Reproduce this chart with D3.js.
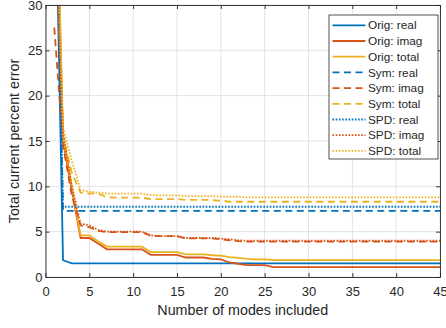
<!DOCTYPE html>
<html>
<head>
<meta charset="utf-8">
<script src="https://cdn.jsdelivr.net/npm/d3@7"></script>
<style>
  body { margin: 0; background: #fff; }
  text { font-family: "Liberation Sans", Arial, sans-serif; fill: #262626; }
</style>
</head>
<body>
<svg id="chart"></svg>
<script>
// data, one value per number of modes (1..45)
const modes = [1, 2, 3, 4, 5, 6, 7, 8, 9, 10, 11, 12, 13, 14, 15, 16, 17, 18, 19, 20, 21, 22, 23,
  24, 25, 26, 27, 28, 29, 30, 31, 32, 33, 34, 35, 36, 37, 38, 39, 40, 41, 42, 43, 44, 45];

const origReal = [50, 1.85, 1.5, 1.5, 1.5, 1.5, 1.5, 1.5, 1.5, 1.5,
  1.5, 1.5, 1.5, 1.5, 1.5, 1.5, 1.5, 1.5, 1.5, 1.5,
  1.5, 1.5, 1.5, 1.5, 1.5, 1.5, 1.5, 1.5, 1.5, 1.5,
  1.5, 1.5, 1.5, 1.5, 1.5, 1.5, 1.5, 1.5, 1.5, 1.5,
  1.5, 1.5, 1.5, 1.5, 1.5];
const origImag = [52, 15, 9.6, 4.3, 4.3, 3.7, 3.05, 3.05, 3.05, 3.05,
  3.05, 2.45, 2.45, 2.45, 2.45, 2.15, 2.15, 2.15, 2.0, 1.95,
  1.6, 1.45, 1.32, 1.32, 1.32, 1.1, 1.1, 1.1, 1.1, 1.1,
  1.1, 1.1, 1.1, 1.1, 1.1, 1.1, 1.1, 1.1, 1.1, 1.1,
  1.1, 1.1, 1.1, 1.1, 1.1];
const origTotal = [55, 15.5, 10, 4.6, 4.6, 3.95, 3.35, 3.35, 3.35, 3.35,
  3.35, 2.75, 2.75, 2.75, 2.75, 2.5, 2.5, 2.5, 2.4, 2.35,
  2.2, 2.1, 2.0, 1.95, 1.95, 1.87, 1.87, 1.87, 1.87, 1.87,
  1.87, 1.87, 1.87, 1.87, 1.87, 1.87, 1.87, 1.87, 1.87, 1.87,
  1.87, 1.87, 1.87, 1.87, 1.87];
const symReal = [50, 7.3, 7.3, 7.3, 7.3, 7.3, 7.3, 7.3, 7.3, 7.3,
  7.3, 7.3, 7.3, 7.3, 7.3, 7.3, 7.3, 7.3, 7.3, 7.3,
  7.3, 7.3, 7.3, 7.3, 7.3, 7.3, 7.3, 7.3, 7.3, 7.3,
  7.3, 7.3, 7.3, 7.3, 7.3, 7.3, 7.3, 7.3, 7.3, 7.3,
  7.3, 7.3, 7.3, 7.3, 7.3];
const symImag = [27.5, 14.5, 9, 5.7, 5.5, 5.1, 4.95, 4.95, 4.95, 4.95,
  4.95, 4.55, 4.5, 4.5, 4.5, 4.25, 4.25, 4.25, 4.25, 4.15,
  4.05, 3.95, 3.9, 3.9, 3.9, 3.9, 3.9, 3.9, 3.9, 3.9,
  3.9, 3.9, 3.9, 3.9, 3.9, 3.9, 3.9, 3.9, 3.9, 3.9,
  3.9, 3.9, 3.9, 3.9, 3.9];
const symTotal = [45, 15.5, 11.5, 9.3, 9.2, 9.2, 8.8, 8.75, 8.75, 8.75,
  8.75, 8.6, 8.6, 8.6, 8.6, 8.5, 8.5, 8.5, 8.5, 8.4,
  8.3, 8.3, 8.3, 8.3, 8.3, 8.3, 8.3, 8.3, 8.3, 8.3,
  8.3, 8.3, 8.3, 8.3, 8.3, 8.3, 8.3, 8.3, 8.3, 8.3,
  8.3, 8.3, 8.3, 8.3, 8.3];
const spdReal = [52, 7.75, 7.75, 7.75, 7.75, 7.75, 7.75, 7.75, 7.75, 7.75,
  7.75, 7.75, 7.75, 7.75, 7.75, 7.75, 7.75, 7.75, 7.75, 7.75,
  7.75, 7.75, 7.75, 7.75, 7.75, 7.75, 7.75, 7.75, 7.75, 7.75,
  7.75, 7.75, 7.75, 7.75, 7.75, 7.75, 7.75, 7.75, 7.75, 7.75,
  7.75, 7.75, 7.75, 7.75, 7.75];
const spdImag = [40, 16, 10, 5.9, 5.7, 5.2, 5.0, 5.0, 5.0, 5.0,
  5.0, 4.6, 4.5, 4.5, 4.5, 4.3, 4.3, 4.3, 4.3, 4.25,
  4.15, 4.05, 4.0, 4.0, 4.0, 4.0, 4.0, 4.0, 4.0, 4.0,
  4.0, 4.0, 4.0, 4.0, 4.0, 4.0, 4.0, 4.0, 4.0, 4.0,
  4.0, 4.0, 4.0, 4.0, 4.0];
const spdTotal = [50, 16.5, 12.8, 9.6, 9.4, 9.3, 9.2, 9.2, 9.2, 9.2,
  9.2, 9.05, 9.0, 9.0, 9.0, 8.93, 8.93, 8.93, 8.93, 8.85,
  8.85, 8.85, 8.78, 8.78, 8.78, 8.78, 8.78, 8.78, 8.78, 8.78,
  8.78, 8.78, 8.78, 8.78, 8.78, 8.78, 8.78, 8.78, 8.78, 8.78,
  8.78, 8.78, 8.78, 8.78, 8.78];

const seriesNames = ["Orig: real", "Orig: imag", "Orig: total", "Sym: real", "Sym: imag", "Sym: total",
  "SPD: real", "SPD: imag", "SPD: total"];
const seriesValues = [origReal, origImag, origTotal, symReal, symImag, symTotal, spdReal, spdImag, spdTotal];

const xTicks = [0, 5, 10, 15, 20, 25, 30, 35, 40, 45];
const yTicks = [0, 5, 10, 15, 20, 25, 30];

// constants
const width = 446;
const height = 328;
const colors = ["#0072BD", "#D95319", "#EDB120"];
const dashes = [null, "7,4.5", "1.6,1.6"];

const svg = d3.select('svg#chart').attr('width', width).attr('height', height)

const x = d3.scaleLinear().domain([0, 45]).range([45.5, 440]);
const y = d3.scaleLinear().domain([0, 30]).range([277, 5]);

// grid
const grid = svg.append('g').attr('stroke', '#e3e3e3').attr('stroke-width', 1)
grid.selectAll('line.gx').data(xTicks).enter().append('line')
  .attr('x1', d => x(d)).attr('x2', d => x(d)).attr('y1', y(0)).attr('y2', y(30))
grid.selectAll('line.gy').data(yTicks).enter().append('line')
  .attr('y1', d => y(d)).attr('y2', d => y(d)).attr('x1', x(0)).attr('x2', x(45))

svg.append('clipPath').attr('id', 'clip').append('rect')
  .attr('x', x(0)).attr('y', y(30)).attr('width', x(45) - x(0)).attr('height', y(0) - y(30))

const line = d3.line().x((d, i) => x(modes[i])).y(d => y(d))

svg.append('g').attr('clip-path', 'url(#clip)')
  .selectAll('path').data(seriesValues).enter().append('path')
  .attr('d', d => line(d))
  .attr('fill', 'none')
  .attr('stroke', (d, i) => colors[i % 3])
  .attr('stroke-width', 1.8)
  .attr('stroke-dasharray', (d, i) => dashes[Math.floor(i / 3)])

// axes, ticks pointing inwards
const fmt = d3.format('d')
svg.append('g').attr('transform', 'translate(0,' + y(0) + ')')
  .call(d3.axisBottom(x).tickValues(xTicks).tickFormat(fmt).tickSizeInner(-4).tickSizeOuter(0).tickPadding(10))
svg.append('g').attr('transform', 'translate(0,' + y(30) + ')')
  .call(d3.axisTop(x).tickValues(xTicks).tickFormat('').tickSizeInner(-4).tickSizeOuter(0))
svg.append('g').attr('transform', 'translate(' + x(0) + ',0)')
  .call(d3.axisLeft(y).tickValues(yTicks).tickFormat(fmt).tickSizeInner(-4).tickSizeOuter(0).tickPadding(3))
svg.append('g').attr('transform', 'translate(' + x(45) + ',0)')
  .call(d3.axisRight(y).tickValues(yTicks).tickFormat('').tickSizeInner(-4).tickSizeOuter(0))

svg.selectAll('.domain, .tick line').attr('stroke', '#262626').attr('stroke-width', 0.9)
svg.selectAll('.tick text').attr('font-size', 13).attr('fill', '#262626')
  .style('font-family', '"Liberation Sans", Arial, sans-serif')

// axis labels
svg.append('text').attr('x', (x(0) + x(45)) / 2).attr('y', 315)
  .attr('text-anchor', 'middle').attr('font-size', 14.3).text('Number of modes included')
svg.append('text').attr('transform', 'translate(19,' + (y(0) + y(30)) / 2 + ') rotate(-90)')
  .attr('text-anchor', 'middle').attr('font-size', 14.3).text('Total current percent error')

// legend
const legend = svg.append('g').attr('transform', 'translate(329,15)')
legend.append('rect').attr('width', 109).attr('height', 144)
  .attr('fill', '#fff').attr('stroke', '#262626').attr('stroke-width', 0.8)
const rows = legend.selectAll('g.row').data(seriesNames).enter().append('g')
  .attr('transform', (d, i) => 'translate(0,' + (10.3 + i * 15.7) + ')')
rows.append('line').attr('x1', 3.5).attr('x2', 36.5).attr('y1', 0).attr('y2', 0)
  .attr('stroke', (d, i) => colors[i % 3])
  .attr('stroke-width', 1.8)
  .attr('stroke-dasharray', (d, i) => dashes[Math.floor(i / 3)])
rows.append('text').attr('x', 39).attr('dy', '0.35em').attr('font-size', 11.8).text(d => d)
</script>
</body>
</html>
